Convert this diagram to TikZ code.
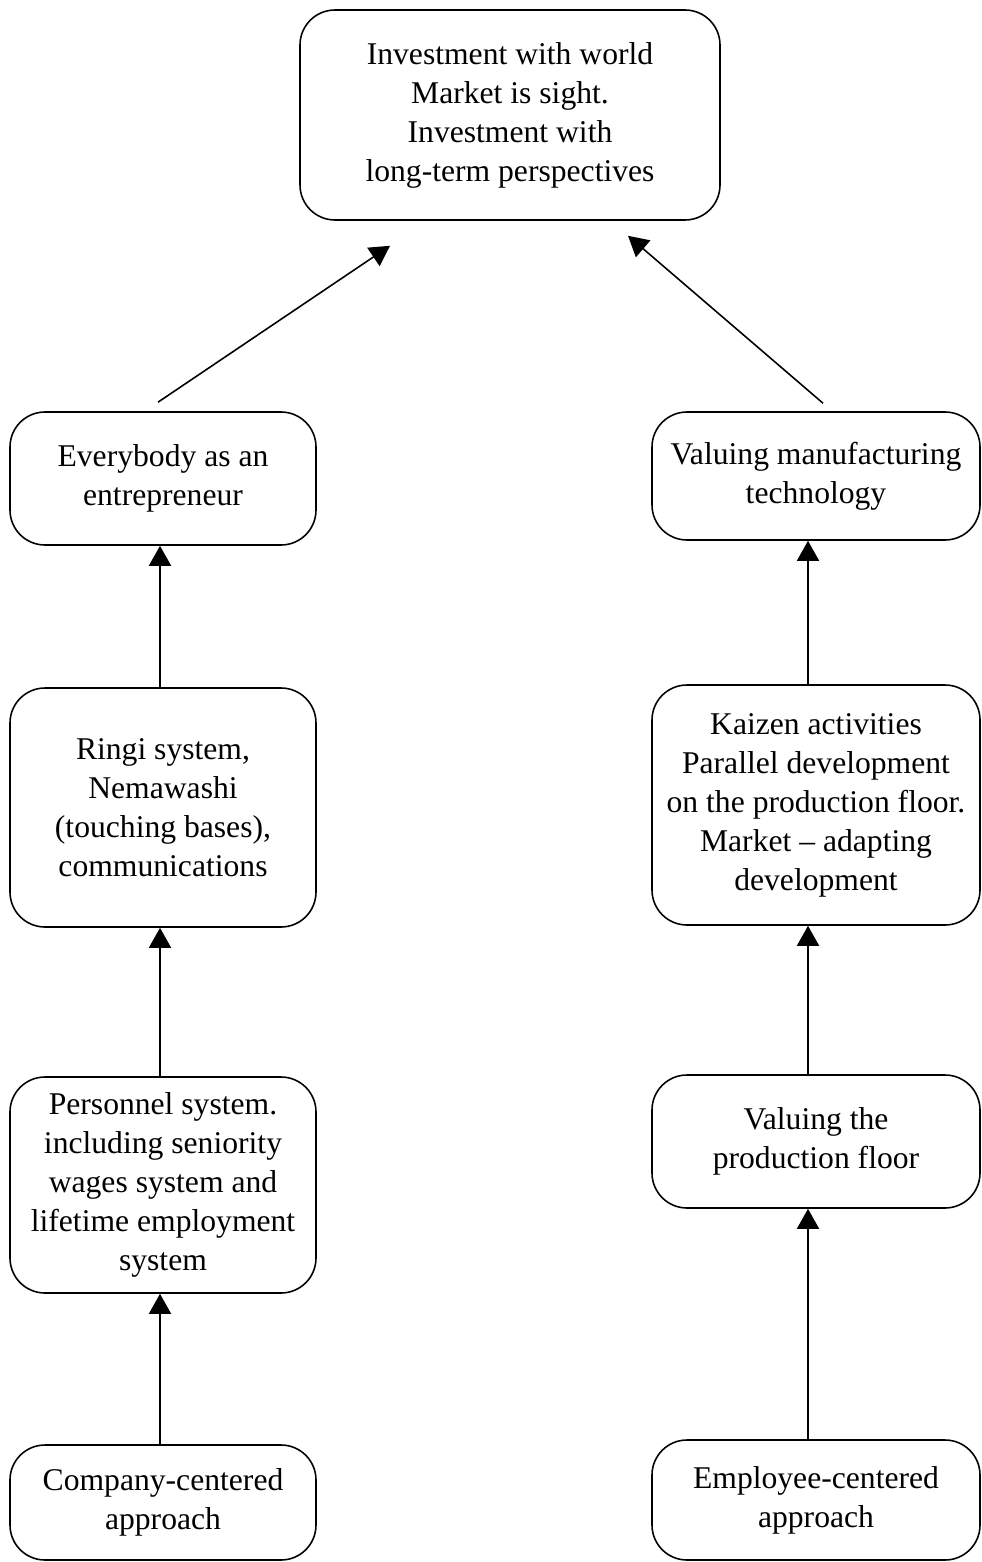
\documentclass[tikz,border=0pt]{standalone}
\usepackage{fontspec}
\setmainfont{Liberation Serif}
\usetikzlibrary{arrows.meta}
\tikzstyle{box}=[draw=black,line width=0.9pt,rounded corners=0.7cm,align=center,
  font=\fontsize{18}{22.2}\selectfont,inner sep=0pt]
\tikzstyle{arr}=[draw=black,line width=0.9pt,-{Triangle[width=0.44cm,length=0.4cm]}]

\begin{document}
\begin{tikzpicture}
    \useasboundingbox (0,0) rectangle (19.64,-31.24);
    % goal
    \node[box,minimum width=8.4cm,minimum height=4.2cm] (goal) at (10.2,-2.3)
      {Investment with world\\Market is sight.\\Investment with\\long-term perspectives};
    % left column
    \node[box,minimum width=6.12cm,minimum height=2.66cm] (entre) at (3.26,-9.57)
      {Everybody as an\\entrepreneur};
    \node[box,minimum width=6.12cm,minimum height=4.78cm] (ringi) at (3.26,-16.15)
      {Ringi system,\\Nemawashi\\(touching bases),\\communications};
    \node[box,minimum width=6.12cm,minimum height=4.32cm] (personnel) at (3.26,-23.7)
      {Personnel system.\\including seniority\\wages system and\\lifetime employment\\system};
    \node[box,minimum width=6.12cm,minimum height=2.3cm] (company) at (3.26,-30.05)
      {Company-centered\\approach};
    % right column
    \node[box,minimum width=6.56cm,minimum height=2.56cm] (technology) at (16.32,-9.52)
      {Valuing manufacturing\\technology};
    \node[box,minimum width=6.56cm,minimum height=4.8cm] (kaizen) at (16.32,-16.1)
      {Kaizen activities\\Parallel development\\on the production floor.\\Market -- adapting\\development};
    \node[box,minimum width=6.56cm,minimum height=2.66cm] (floor) at (16.32,-22.83)
      {Valuing the\\production floor};
    \node[box,minimum width=6.56cm,minimum height=2.4cm] (employee) at (16.32,-30.0)
      {Employee-centered\\approach};
    % arrows
    \draw[arr] ([xshift=-0.1cm,yshift=0.18cm]entre.north) -- ([xshift=-2.4cm,yshift=-0.5cm]goal.south);
    \draw[arr] ([xshift=0.14cm,yshift=0.16cm]technology.north) -- ([xshift=2.36cm,yshift=-0.3cm]goal.south);
    \draw[arr] ([xshift=-0.06cm]ringi.north) -- ([xshift=-0.06cm]entre.south);
    \draw[arr] ([xshift=-0.06cm]personnel.north) -- ([xshift=-0.06cm]ringi.south);
    \draw[arr] ([xshift=-0.06cm]company.north) -- ([xshift=-0.06cm]personnel.south);
    \draw[arr] ([xshift=-0.16cm]kaizen.north) -- ([xshift=-0.16cm]technology.south);
    \draw[arr] ([xshift=-0.16cm]floor.north) -- ([xshift=-0.16cm]kaizen.south);
    \draw[arr] ([xshift=-0.16cm]employee.north) -- ([xshift=-0.16cm]floor.south);
\end{tikzpicture}
\end{document}
